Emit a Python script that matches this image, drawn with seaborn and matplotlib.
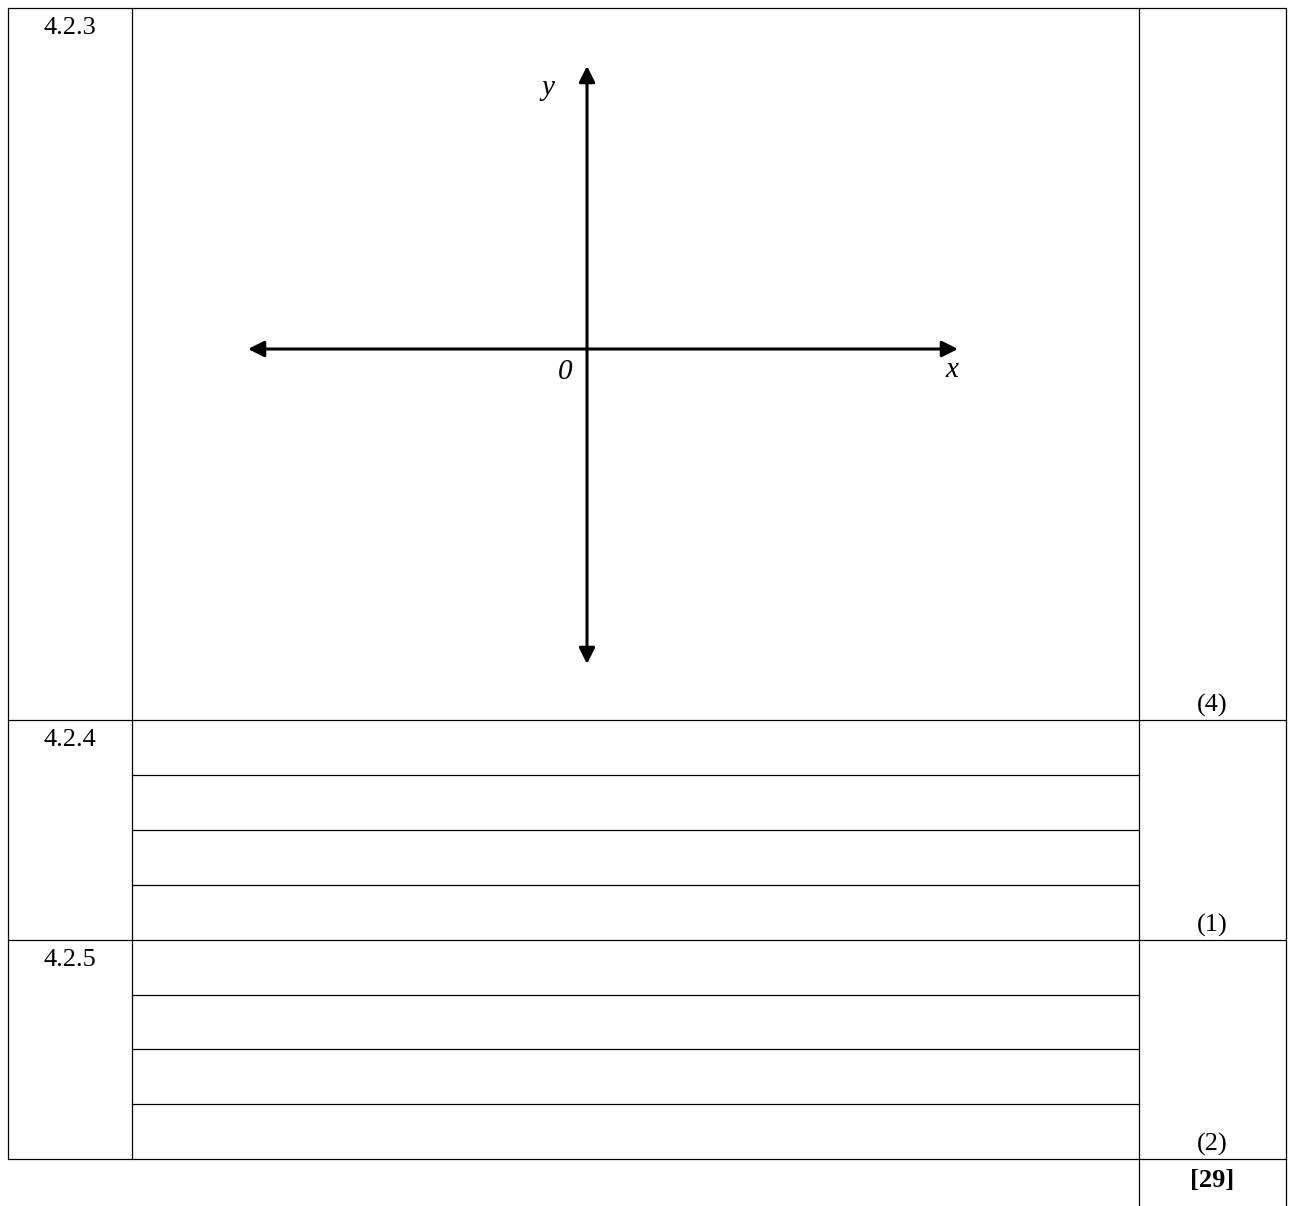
import matplotlib
matplotlib.use("Agg")
import matplotlib.pyplot as plt
import seaborn as sns
import pandas as pd

sns.set_theme(style="white")
plt.rcParams['font.family'] = ['Liberation Serif', 'DejaVu Serif']
plt.rcParams['text.color'] = 'black'

# Table layout (page pixel coordinates)
question_labels = ["4.2.3", "4.2.4", "4.2.5"]
mark_labels = ["(4)", "(1)", "(2)"]
total_label = "[29]"
row_bounds = [8, 720, 940, 1159]
col_bounds = [8, 132, 1139, 1286]
answer_lines_424 = [775, 830, 885]
answer_lines_425 = [995, 1049, 1104]

# Cartesian axes sketch
x_axis_ends = [248, 958]
y_axis_ends = [66, 664]
origin = (587, 349)
axis_labels = ["x", "y", "0"]

W, H = 1293, 1206
fig = plt.figure(figsize=(W / 100, H / 100), dpi=100)
ax = fig.add_axes([0, 0, 1, 1])

lw = 0.9
c = "black"
# answer lines via seaborn
rows = []
for i, y in enumerate(answer_lines_424 + answer_lines_425):
    rows.append({"x": col_bounds[1], "y": y, "g": i})
    rows.append({"x": col_bounds[2], "y": y, "g": i})
df = pd.DataFrame(rows)
sns.lineplot(data=df, x="x", y="y", units="g", estimator=None, color=c, lw=lw, ax=ax, legend=False)

ax.set_xlim(0, W)
ax.set_ylim(H, 0)
ax.axis("off")

# horizontal table lines
for y in row_bounds:
    ax.plot([col_bounds[0], col_bounds[-1]], [y, y], color=c, lw=lw)
# vertical table lines
for x in col_bounds:
    ax.plot([x, x], [row_bounds[0], row_bounds[-1]], color=c, lw=lw)
# bottom extra cell
ax.plot([col_bounds[2], col_bounds[2]], [row_bounds[-1], H], color=c, lw=lw)
ax.plot([col_bounds[3], col_bounds[3]], [row_bounds[-1], H], color=c, lw=lw)

fs = 19
for lab, y in zip(question_labels, row_bounds[:3]):
    ax.text(70, y + 20, lab, ha="center", va="center", fontsize=fs, color=c)
for lab, y in zip(mark_labels, row_bounds[1:]):
    ax.text(1212, y - 15, lab, ha="center", va="center", fontsize=fs, color=c)
ax.text(1212, row_bounds[-1] + 21, total_label, ha="center", va="center",
        fontsize=fs, fontweight="bold", color=c)

# axes with arrows
ox, oy = origin
arrow = dict(arrowstyle="-|>,head_length=0.8,head_width=0.4", color=c, lw=2.2,
             shrinkA=0, shrinkB=0, mutation_scale=12)
ax.annotate("", xy=(x_axis_ends[1], oy), xytext=(ox, oy), arrowprops=arrow)
ax.annotate("", xy=(x_axis_ends[0], oy), xytext=(ox, oy), arrowprops=arrow)
ax.annotate("", xy=(ox, y_axis_ends[0]), xytext=(ox, oy), arrowprops=arrow)
ax.annotate("", xy=(ox, y_axis_ends[1]), xytext=(ox, oy), arrowprops=arrow)

ax.text(952, 370, axis_labels[0], ha="center", va="center", fontsize=21, style="italic", color=c)
ax.text(548, 88, axis_labels[1], ha="center", va="center", fontsize=21, style="italic", color=c)
ax.text(565, 372, axis_labels[2], ha="center", va="center", fontsize=21, style="italic", color=c)

fig.savefig("out.png", dpi=100, facecolor="white")
